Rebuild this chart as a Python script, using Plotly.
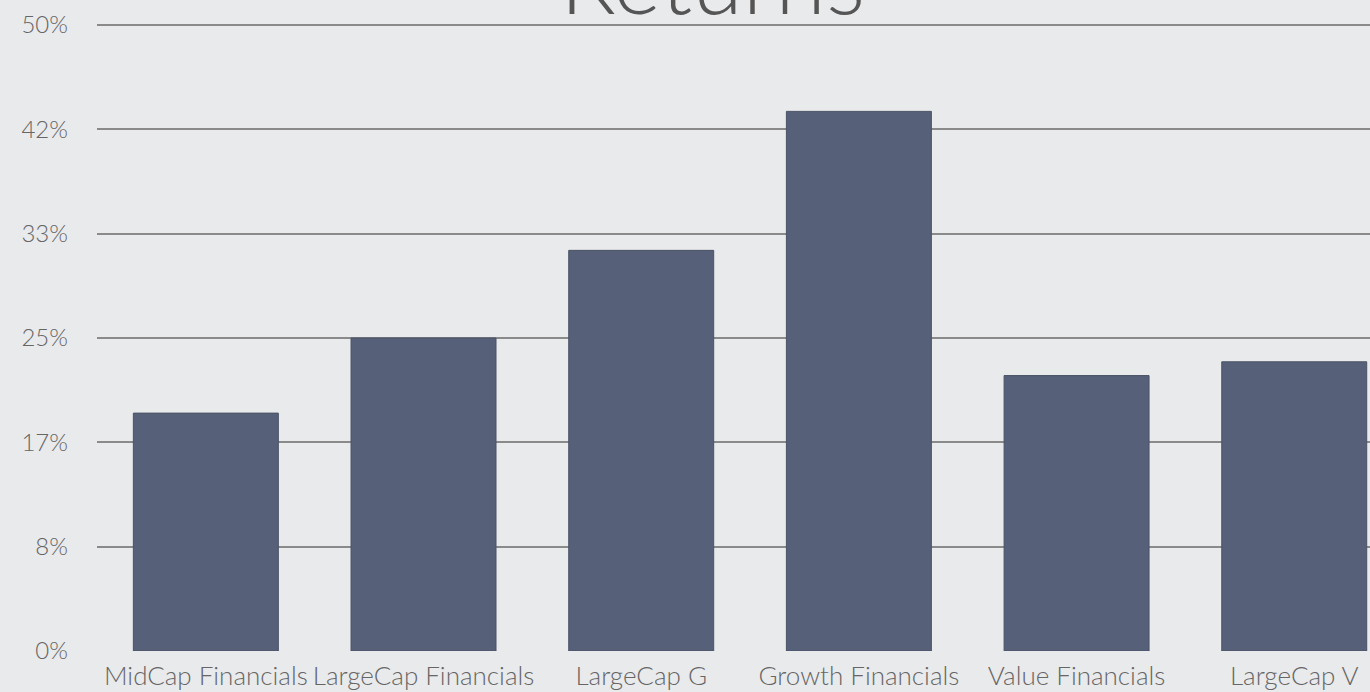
import plotly.graph_objects as go

categories = ["MidCap Financials", "LargeCap Financials", "LargeCap G",
              "Growth Financials", "Value Financials", "LargeCap V"]
returns_pct = [19.0, 25.0, 32.0, 43.1, 22.0, 23.1]
tick_vals = [0, 8.333, 16.667, 25, 33.333, 41.667, 50]
tick_text = ["0%", "8%", "17%", "25%", "33%", "42%", "50%"]

fig = go.Figure()
fig.add_trace(go.Bar(
    x=categories, y=returns_pct,
    marker=dict(color="#566078", line=dict(color="#4a5366", width=1)),
    showlegend=False,
))

fig.update_layout(
    width=1370, height=692,
    margin=dict(l=97, r=0, t=20, b=41),
    paper_bgcolor="#e9eaec",
    plot_bgcolor="#e9eaec",
    bargap=0.334,
    font=dict(family="Lato", color="#666666"),
    xaxis=dict(range=[-0.5, 5.348], showgrid=False, zeroline=False,
               showline=False, ticks="", tickangle=0, automargin=False,
               tickfont=dict(size=26, color="#666666", weight=300),
               ticklabelstandoff=7),
    yaxis=dict(range=[0, 50.4], tickvals=tick_vals, ticktext=tick_text,
               showgrid=True, gridcolor="#8a8a8a", gridwidth=2, automargin=False,
               zeroline=False, showline=False, ticks="",
               tickfont=dict(size=24, color="#666666", weight=300),
               ticklabelstandoff=28),
    annotations=[dict(text="Returns", xref="paper", yref="paper",
                      x=(712 - 97) / 1273, y=1 - 16 / 631, xanchor="center", yanchor="bottom",
                      showarrow=False, font=dict(size=92, color="#555555", family="Lato", weight=300))],
)

fig.write_html("out.html", config={"displayModeBar": False},
               post_script="document.body.style.margin='0';document.body.style.background='#e9eaec';")
